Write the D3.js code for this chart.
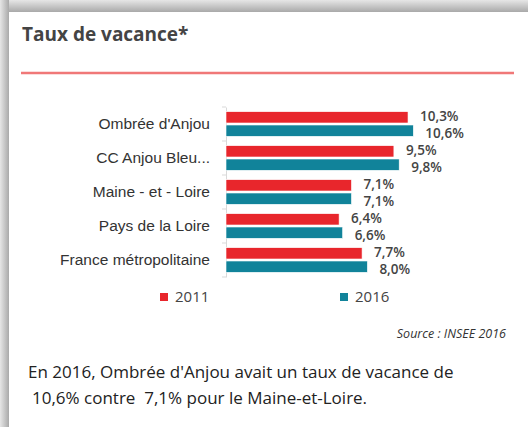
<!DOCTYPE html>
<html>
<head>
<meta charset="utf-8">
<script src="https://cdn.jsdelivr.net/npm/d3@7"></script>
<style>
  html, body { margin: 0; padding: 0; background: #fff; }
  svg { display: block; font-family: "Open Sans", sans-serif; }
</style>
</head>
<body>
<div id="chart"></div>
<script>
var categories = ["Ombrée d'Anjou", "CC Anjou Bleu...", "Maine - et - Loire", "Pays de la Loire", "France métropolitaine"];
var series = ["2011", "2016"];
var values2011 = [10.3, 9.5, 7.1, 6.4, 7.7];
var values2016 = [10.6, 9.8, 7.1, 6.6, 8.0];
var colors = ["#e8262c", "#11839a"];

var w = 528, h = 427;

var svg = d3.select("#chart")
  .append("svg")
  .attr("width", w)
  .attr("height", h);

// card shadow
var defs = svg.append("defs");
var gTop = defs.append("linearGradient").attr("id", "shTop").attr("x1", 0).attr("y1", 0).attr("x2", 0).attr("y2", 1);
gTop.append("stop").attr("offset", "0%").attr("stop-color", "#e6e6e6");
gTop.append("stop").attr("offset", "100%").attr("stop-color", "#a9a9a9");
var gLeft = defs.append("linearGradient").attr("id", "shLeft").attr("x1", 0).attr("y1", 0).attr("x2", 1).attr("y2", 0);
gLeft.append("stop").attr("offset", "0%").attr("stop-color", "#e6e6e6");
gLeft.append("stop").attr("offset", "100%").attr("stop-color", "#a9a9a9");

svg.append("rect").attr("x", 0).attr("y", 0).attr("width", w).attr("height", 12).attr("fill", "url(#shTop)");
svg.append("rect").attr("x", 0).attr("y", 0).attr("width", 9).attr("height", h).attr("fill", "url(#shLeft)");
svg.append("rect").attr("x", 9).attr("y", 12).attr("width", w - 9).attr("height", h - 12).attr("fill", "#fff");

// title
svg.append("text")
  .attr("x", 22)
  .attr("y", 41)
  .attr("font-size", 19)
  .attr("font-weight", "bold")
  .attr("fill", "#444")
  .text("Taux de vacance*");

svg.append("line")
  .attr("x1", 21).attr("x2", 514)
  .attr("y1", 73).attr("y2", 73)
  .attr("stroke", "#f07878")
  .attr("stroke-width", 2.5);

// scales
var x = d3.scaleLinear().domain([0, 11]).range([226, 420.4]);
var y = d3.scaleBand().domain(categories).range([107, 277]);
var ySub = d3.scaleBand().domain(series).range([0, y.step()]).paddingInner(0.15).paddingOuter(0.35);

var yAxis = d3.axisLeft(y).tickSize(0).tickPadding(16).tickFormat(function(d) { return d; });
var axisG = svg.append("g")
  .attr("transform", "translate(" + x(0) + ",0)")
  .call(yAxis);
axisG.select(".domain").attr("stroke", "#d9d9d9");
axisG.selectAll("text")
  .attr("font-size", 15.5)
  .attr("fill", "#333");

// category boundary ticks
svg.append("g")
  .selectAll("line")
  .data(d3.range(categories.length + 1))
  .enter()
    .append("line")
    .attr("x1", x(0) - 4)
    .attr("x2", x(0))
    .attr("y1", function(i) { return 107 + i * y.step(); })
    .attr("y2", function(i) { return 107 + i * y.step(); })
    .attr("stroke", "#d9d9d9");

var rows = categories.map(function(c, i) {
  return { cat: c, vals: [values2011[i], values2016[i]] };
});

var groups = svg.append("g")
  .selectAll("g")
  .data(rows)
  .enter()
    .append("g")
    .attr("transform", function(d) { return "translate(0," + y(d.cat) + ")"; });

groups.selectAll("rect")
  .data(function(d) { return d.vals.map(function(v, j) { return { s: series[j], v: v, j: j }; }); })
  .enter()
    .append("rect")
    .attr("x", x(0))
    .attr("y", function(d) { return ySub(d.s); })
    .attr("width", function(d) { return x(d.v) - x(0); })
    .attr("height", ySub.bandwidth())
    .attr("fill", function(d) { return colors[d.j]; })
    .attr("stroke", "#fff")
    .attr("stroke-width", 0.6);

// value labels, pushed slightly apart like the original
var labelShift = [-1, 2.5];
groups.selectAll("text.val")
  .data(function(d) { return d.vals.map(function(v, j) { return { s: series[j], v: v, j: j }; }); })
  .enter()
    .append("text")
    .attr("class", "val")
    .attr("x", function(d) { return x(d.v) + 12; })
    .attr("y", function(d) { return ySub(d.s) + ySub.bandwidth() / 2 + labelShift[d.j]; })
    .attr("dy", "0.35em")
    .attr("font-size", 13.5)
    .attr("font-weight", 600)
    .attr("fill", "#444")
    .text(function(d) { return d.v.toFixed(1).replace(".", ",") + "%"; });

// legend
var legendX = [160, 340];
var legend = svg.append("g")
  .selectAll("g")
  .data(series)
  .enter()
    .append("g")
    .attr("transform", function(d, i) { return "translate(" + legendX[i] + ",293)"; });
legend.append("rect")
  .attr("width", 8).attr("height", 8)
  .attr("fill", function(d, i) { return colors[i]; });
legend.append("text")
  .attr("x", 15)
  .attr("y", 4)
  .attr("dy", "0.35em")
  .attr("font-size", 15)
  .attr("fill", "#444")
  .text(function(d) { return d; });

svg.append("text")
  .attr("x", 506)
  .attr("y", 338)
  .attr("text-anchor", "end")
  .attr("font-size", 12.5)
  .attr("font-style", "italic")
  .attr("fill", "#333")
  .text("Source : INSEE 2016");

svg.append("text")
  .attr("x", 28)
  .attr("y", 378)
  .attr("font-size", 17)
  .attr("fill", "#222")
  .text("En 2016, Ombrée d'Anjou avait un taux de vacance de");
svg.append("text")
  .attr("x", 32)
  .attr("y", 404)
  .attr("font-size", 17)
  .attr("fill", "#222")
  .attr("xml:space", "preserve")
  .style("white-space", "pre")
  .text("10,6% contre  7,1% pour le Maine-et-Loire.");
</script>
</body>
</html>
